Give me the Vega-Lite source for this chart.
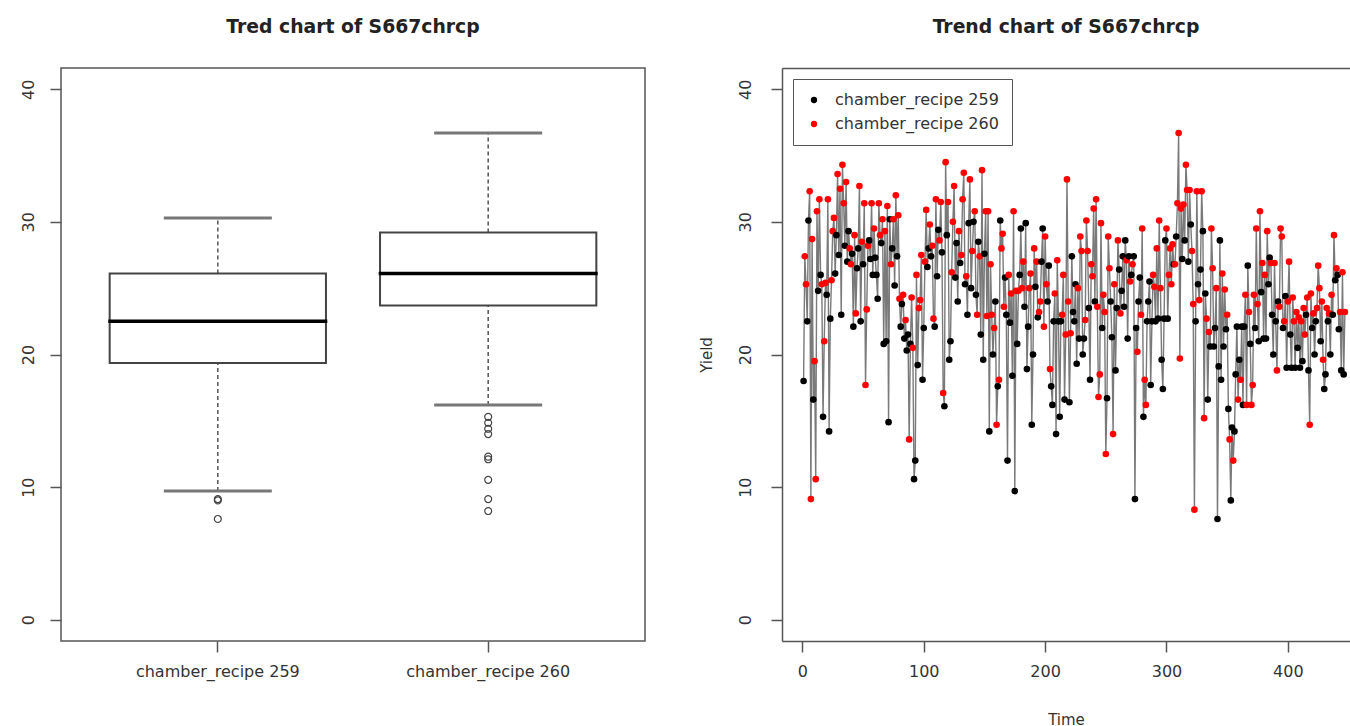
{
  "$schema": "https://vega.github.io/schema/vega-lite/v6.json",
  "background": "white",
  "padding": {"left": 19, "top": 17, "right": 0, "bottom": 0},
  "bounds": "flush",
  "spacing": 137,
  "resolve": {"legend": {"color": "independent"}},
  "config": {
    "font": "DejaVu Sans",
    "view": {"stroke": "#555", "strokeWidth": 1.5},
    "axis": {
      "labelFont": "DejaVu Sans", "labelFontSize": 16, "labelColor": "#333",
      "tickColor": "#555", "tickSize": 11, "tickWidth": 1.5,
      "grid": false, "domain": false,
      "titleFont": "DejaVu Sans", "titleFontWeight": "normal", "titleFontSize": 15, "titleColor": "#333"
    },
    "title": {"font": "DejaVu Sans", "fontSize": 18.8, "fontWeight": "bold", "color": "#222", "anchor": "middle", "baseline": "alphabetic"}
  },
  "datasets": {
    "box": [
      {"recipe": "chamber_recipe 259", "lo": 9.7, "q1": 19.35, "med": 22.5, "q3": 26.1, "hi": 30.3},
      {"recipe": "chamber_recipe 260", "lo": 16.2, "q1": 23.7, "med": 26.1, "q3": 29.2, "hi": 36.7}
    ],
    "outliers": [
      {"recipe": "chamber_recipe 259", "y": 9.1},
      {"recipe": "chamber_recipe 259", "y": 9.0},
      {"recipe": "chamber_recipe 259", "y": 7.6},
      {"recipe": "chamber_recipe 260", "y": 15.3},
      {"recipe": "chamber_recipe 260", "y": 14.85},
      {"recipe": "chamber_recipe 260", "y": 14.4},
      {"recipe": "chamber_recipe 260", "y": 14.0},
      {"recipe": "chamber_recipe 260", "y": 12.3},
      {"recipe": "chamber_recipe 260", "y": 12.1},
      {"recipe": "chamber_recipe 260", "y": 10.55},
      {"recipe": "chamber_recipe 260", "y": 9.1},
      {"recipe": "chamber_recipe 260", "y": 8.2}
    ],
    "series": [
      {"t":1,"y":18.0,"c":259},{"t":2,"y":27.4,"c":260},{"t":3,"y":25.3,"c":260},{"t":4,"y":22.5,"c":259},{"t":5,"y":30.1,"c":259},
      {"t":6,"y":32.3,"c":260},{"t":7,"y":9.1,"c":260},{"t":8,"y":28.7,"c":260},{"t":9,"y":16.6,"c":259},{"t":10,"y":19.5,"c":260},
      {"t":11,"y":10.6,"c":260},{"t":12,"y":30.8,"c":260},{"t":13,"y":24.8,"c":259},{"t":14,"y":31.7,"c":260},{"t":15,"y":26.0,"c":259},
      {"t":16,"y":25.3,"c":260},{"t":17,"y":15.3,"c":259},{"t":18,"y":21.0,"c":260},{"t":19,"y":25.4,"c":260},{"t":20,"y":24.5,"c":259},
      {"t":21,"y":31.7,"c":260},{"t":22,"y":14.2,"c":259},{"t":23,"y":22.7,"c":259},{"t":24,"y":25.6,"c":260},{"t":25,"y":29.3,"c":260},
      {"t":26,"y":30.3,"c":260},{"t":27,"y":26.1,"c":259},{"t":28,"y":29.0,"c":259},{"t":29,"y":33.6,"c":260},{"t":30,"y":27.5,"c":259},
      {"t":31,"y":32.5,"c":260},{"t":32,"y":23.0,"c":259},{"t":33,"y":34.3,"c":260},{"t":34,"y":31.4,"c":260},{"t":35,"y":28.2,"c":259},
      {"t":36,"y":33.0,"c":260},{"t":37,"y":27.0,"c":259},{"t":38,"y":29.3,"c":259},{"t":39,"y":28.0,"c":260},{"t":40,"y":26.8,"c":260},
      {"t":41,"y":27.6,"c":259},{"t":42,"y":22.1,"c":259},{"t":43,"y":29.0,"c":260},{"t":44,"y":23.1,"c":260},{"t":45,"y":26.5,"c":259},
      {"t":46,"y":28.0,"c":259},{"t":47,"y":32.7,"c":260},{"t":48,"y":22.5,"c":259},{"t":49,"y":28.5,"c":260},{"t":50,"y":26.8,"c":259},
      {"t":51,"y":31.4,"c":260},{"t":52,"y":17.7,"c":260},{"t":53,"y":23.4,"c":260},{"t":54,"y":28.2,"c":260},{"t":55,"y":28.6,"c":259},
      {"t":56,"y":27.2,"c":259},{"t":57,"y":31.4,"c":260},{"t":58,"y":26.0,"c":259},{"t":59,"y":29.5,"c":260},{"t":60,"y":27.3,"c":259},
      {"t":61,"y":26.0,"c":259},{"t":62,"y":24.2,"c":259},{"t":63,"y":31.4,"c":260},{"t":64,"y":29.0,"c":260},{"t":65,"y":28.4,"c":259},
      {"t":66,"y":30.2,"c":260},{"t":67,"y":20.8,"c":259},{"t":68,"y":29.3,"c":260},{"t":69,"y":21.0,"c":259},{"t":70,"y":31.2,"c":260},
      {"t":71,"y":14.9,"c":259},{"t":72,"y":30.2,"c":259},{"t":73,"y":26.8,"c":260},{"t":74,"y":28.0,"c":259},{"t":75,"y":30.2,"c":260},
      {"t":76,"y":25.2,"c":259},{"t":77,"y":32.0,"c":260},{"t":78,"y":27.4,"c":259},{"t":79,"y":30.5,"c":260},{"t":80,"y":24.2,"c":260},
      {"t":81,"y":22.1,"c":259},{"t":82,"y":23.8,"c":259},{"t":83,"y":24.5,"c":260},{"t":84,"y":21.2,"c":259},{"t":85,"y":22.6,"c":260},
      {"t":86,"y":20.3,"c":259},{"t":87,"y":21.5,"c":259},{"t":88,"y":13.6,"c":260},{"t":89,"y":20.8,"c":259},{"t":90,"y":24.3,"c":260},
      {"t":91,"y":20.5,"c":260},{"t":92,"y":10.6,"c":259},{"t":93,"y":12.0,"c":259},{"t":94,"y":26.0,"c":260},{"t":95,"y":19.2,"c":259},
      {"t":96,"y":23.5,"c":260},{"t":97,"y":24.1,"c":260},{"t":98,"y":27.5,"c":260},{"t":99,"y":18.1,"c":259},{"t":100,"y":22.0,"c":259},
      {"t":101,"y":27.0,"c":260},{"t":102,"y":30.9,"c":260},{"t":103,"y":26.6,"c":259},{"t":104,"y":28.0,"c":259},{"t":105,"y":29.8,"c":260},
      {"t":106,"y":27.4,"c":259},{"t":107,"y":28.2,"c":260},{"t":108,"y":22.7,"c":260},{"t":109,"y":22.1,"c":259},{"t":110,"y":31.7,"c":260},
      {"t":111,"y":25.9,"c":259},{"t":112,"y":29.4,"c":259},{"t":113,"y":28.6,"c":260},{"t":114,"y":31.5,"c":260},{"t":115,"y":27.7,"c":259},
      {"t":116,"y":17.1,"c":260},{"t":117,"y":16.1,"c":259},{"t":118,"y":34.5,"c":260},{"t":119,"y":29.0,"c":259},{"t":120,"y":31.5,"c":260},
      {"t":121,"y":19.6,"c":259},{"t":122,"y":21.0,"c":259},{"t":123,"y":26.2,"c":260},{"t":124,"y":30.0,"c":260},{"t":125,"y":32.7,"c":260},
      {"t":126,"y":25.8,"c":259},{"t":127,"y":28.4,"c":259},{"t":128,"y":24.0,"c":259},{"t":129,"y":29.3,"c":260},{"t":130,"y":26.9,"c":259},
      {"t":131,"y":27.5,"c":260},{"t":132,"y":31.7,"c":260},{"t":133,"y":33.7,"c":260},{"t":134,"y":25.3,"c":259},{"t":135,"y":25.9,"c":260},
      {"t":136,"y":23.0,"c":259},{"t":137,"y":29.9,"c":259},{"t":138,"y":33.2,"c":260},{"t":139,"y":25.0,"c":259},{"t":140,"y":27.8,"c":260},
      {"t":141,"y":30.0,"c":259},{"t":142,"y":30.8,"c":260},{"t":143,"y":24.5,"c":259},{"t":144,"y":23.0,"c":260},{"t":145,"y":28.5,"c":259},
      {"t":146,"y":27.4,"c":260},{"t":147,"y":21.5,"c":259},{"t":148,"y":33.9,"c":260},{"t":149,"y":19.6,"c":259},{"t":150,"y":27.6,"c":259},
      {"t":151,"y":30.8,"c":260},{"t":152,"y":22.9,"c":260},{"t":153,"y":30.8,"c":260},{"t":154,"y":14.2,"c":259},{"t":155,"y":26.8,"c":260},
      {"t":156,"y":23.0,"c":260},{"t":157,"y":20.0,"c":259},{"t":158,"y":22.0,"c":260},{"t":159,"y":24.0,"c":259},{"t":160,"y":14.7,"c":260},
      {"t":161,"y":17.6,"c":259},{"t":162,"y":18.1,"c":260},{"t":163,"y":30.1,"c":259},{"t":164,"y":28.0,"c":260},{"t":165,"y":29.1,"c":260},
      {"t":166,"y":23.6,"c":260},{"t":167,"y":25.8,"c":259},{"t":168,"y":23.0,"c":259},{"t":169,"y":12.0,"c":259},{"t":170,"y":26.0,"c":260},
      {"t":171,"y":22.4,"c":259},{"t":172,"y":24.6,"c":260},{"t":173,"y":18.4,"c":259},{"t":174,"y":30.8,"c":260},{"t":175,"y":9.7,"c":259},
      {"t":176,"y":24.8,"c":260},{"t":177,"y":20.8,"c":259},{"t":178,"y":24.8,"c":260},{"t":179,"y":26.0,"c":259},{"t":180,"y":29.5,"c":259},
      {"t":181,"y":25.0,"c":260},{"t":182,"y":27.0,"c":260},{"t":183,"y":23.6,"c":259},{"t":184,"y":29.9,"c":259},{"t":185,"y":18.9,"c":259},
      {"t":186,"y":22.1,"c":259},{"t":187,"y":25.0,"c":260},{"t":188,"y":26.1,"c":260},{"t":189,"y":14.7,"c":259},{"t":190,"y":20.0,"c":259},
      {"t":191,"y":28.0,"c":260},{"t":192,"y":25.1,"c":259},{"t":193,"y":27.0,"c":260},{"t":194,"y":22.8,"c":259},{"t":195,"y":23.2,"c":260},
      {"t":196,"y":24.0,"c":260},{"t":197,"y":27.0,"c":259},{"t":198,"y":29.5,"c":259},{"t":199,"y":22.1,"c":260},{"t":200,"y":28.9,"c":260},
      {"t":201,"y":25.3,"c":260},{"t":202,"y":24.0,"c":259},{"t":203,"y":26.7,"c":259},{"t":204,"y":18.9,"c":260},{"t":205,"y":17.6,"c":259},
      {"t":206,"y":16.2,"c":259},{"t":207,"y":22.5,"c":259},{"t":208,"y":24.6,"c":260},{"t":209,"y":14.0,"c":259},{"t":210,"y":27.1,"c":260},
      {"t":211,"y":22.5,"c":259},{"t":212,"y":15.3,"c":259},{"t":213,"y":22.5,"c":259},{"t":214,"y":23.0,"c":260},{"t":215,"y":26.0,"c":260},
      {"t":216,"y":16.6,"c":259},{"t":217,"y":21.5,"c":260},{"t":218,"y":33.2,"c":260},{"t":219,"y":24.0,"c":260},{"t":220,"y":16.4,"c":259},
      {"t":221,"y":21.6,"c":260},{"t":222,"y":27.4,"c":259},{"t":223,"y":23.2,"c":259},{"t":224,"y":22.5,"c":259},{"t":225,"y":25.3,"c":259},
      {"t":226,"y":19.3,"c":259},{"t":227,"y":25.0,"c":260},{"t":228,"y":21.2,"c":259},{"t":229,"y":28.9,"c":260},{"t":230,"y":27.8,"c":260},
      {"t":231,"y":20.0,"c":259},{"t":232,"y":21.2,"c":259},{"t":233,"y":22.6,"c":260},{"t":234,"y":30.1,"c":260},{"t":235,"y":27.8,"c":260},
      {"t":236,"y":23.5,"c":259},{"t":237,"y":18.1,"c":259},{"t":238,"y":26.8,"c":260},{"t":239,"y":25.9,"c":260},{"t":240,"y":31.0,"c":260},
      {"t":241,"y":24.0,"c":259},{"t":242,"y":31.7,"c":260},{"t":243,"y":23.6,"c":260},{"t":244,"y":16.8,"c":260},{"t":245,"y":18.5,"c":260},
      {"t":246,"y":29.9,"c":260},{"t":247,"y":22.0,"c":259},{"t":248,"y":24.5,"c":260},{"t":249,"y":23.2,"c":260},{"t":250,"y":12.5,"c":260},
      {"t":251,"y":16.7,"c":259},{"t":252,"y":28.9,"c":260},{"t":253,"y":26.5,"c":260},{"t":254,"y":24.0,"c":259},{"t":255,"y":21.3,"c":259},
      {"t":256,"y":14.0,"c":260},{"t":257,"y":25.3,"c":260},{"t":258,"y":18.8,"c":259},{"t":259,"y":23.5,"c":259},{"t":260,"y":28.6,"c":260},
      {"t":261,"y":26.4,"c":259},{"t":262,"y":23.1,"c":260},{"t":263,"y":24.8,"c":259},{"t":264,"y":27.4,"c":259},{"t":265,"y":23.6,"c":259},
      {"t":266,"y":28.6,"c":259},{"t":267,"y":27.1,"c":260},{"t":268,"y":21.2,"c":259},{"t":269,"y":27.4,"c":259},{"t":270,"y":25.5,"c":260},
      {"t":271,"y":26.0,"c":259},{"t":272,"y":26.8,"c":260},{"t":273,"y":27.4,"c":259},{"t":274,"y":9.1,"c":259},{"t":275,"y":22.0,"c":259},
      {"t":276,"y":20.2,"c":260},{"t":277,"y":24.0,"c":259},{"t":278,"y":25.8,"c":259},{"t":279,"y":23.0,"c":260},{"t":280,"y":29.5,"c":260},
      {"t":281,"y":15.3,"c":259},{"t":282,"y":18.1,"c":260},{"t":283,"y":16.2,"c":260},{"t":284,"y":22.5,"c":259},{"t":285,"y":24.0,"c":259},
      {"t":286,"y":25.5,"c":259},{"t":287,"y":17.7,"c":259},{"t":288,"y":22.5,"c":259},{"t":289,"y":26.0,"c":260},{"t":290,"y":25.1,"c":260},
      {"t":291,"y":22.5,"c":259},{"t":292,"y":28.0,"c":260},{"t":293,"y":22.7,"c":259},{"t":294,"y":30.1,"c":260},{"t":295,"y":25.0,"c":260},
      {"t":296,"y":19.6,"c":259},{"t":297,"y":17.4,"c":259},{"t":298,"y":22.7,"c":259},{"t":299,"y":28.6,"c":259},{"t":300,"y":29.5,"c":260},
      {"t":301,"y":22.7,"c":259},{"t":302,"y":26.0,"c":260},{"t":303,"y":28.0,"c":260},{"t":304,"y":25.3,"c":260},{"t":305,"y":28.3,"c":260},
      {"t":306,"y":26.8,"c":259},{"t":307,"y":26.8,"c":260},{"t":308,"y":28.9,"c":259},{"t":309,"y":31.4,"c":260},{"t":310,"y":36.7,"c":260},
      {"t":311,"y":19.7,"c":260},{"t":312,"y":31.0,"c":260},{"t":313,"y":27.2,"c":259},{"t":314,"y":31.3,"c":260},{"t":315,"y":28.6,"c":259},
      {"t":316,"y":34.3,"c":260},{"t":317,"y":32.4,"c":260},{"t":318,"y":27.0,"c":259},{"t":319,"y":32.4,"c":260},{"t":320,"y":29.8,"c":259},
      {"t":321,"y":27.8,"c":260},{"t":322,"y":23.8,"c":260},{"t":323,"y":8.3,"c":260},{"t":324,"y":22.5,"c":259},{"t":325,"y":32.3,"c":260},
      {"t":326,"y":25.3,"c":259},{"t":327,"y":24.1,"c":260},{"t":328,"y":26.4,"c":259},{"t":329,"y":32.3,"c":260},{"t":330,"y":29.3,"c":259},
      {"t":331,"y":15.2,"c":260},{"t":332,"y":24.6,"c":259},{"t":333,"y":22.7,"c":260},{"t":334,"y":16.6,"c":259},{"t":335,"y":21.7,"c":260},
      {"t":336,"y":20.6,"c":259},{"t":337,"y":29.5,"c":260},{"t":338,"y":26.5,"c":260},{"t":339,"y":20.6,"c":259},{"t":340,"y":22.0,"c":259},
      {"t":341,"y":25.0,"c":260},{"t":342,"y":7.6,"c":259},{"t":343,"y":19.1,"c":259},{"t":344,"y":28.6,"c":259},{"t":345,"y":18.1,"c":259},
      {"t":346,"y":26.1,"c":260},{"t":347,"y":20.6,"c":259},{"t":348,"y":24.9,"c":260},{"t":349,"y":21.9,"c":259},{"t":350,"y":23.0,"c":260},
      {"t":351,"y":15.9,"c":259},{"t":352,"y":13.6,"c":260},{"t":353,"y":9.0,"c":259},{"t":354,"y":14.5,"c":259},{"t":355,"y":12.0,"c":260},
      {"t":356,"y":14.2,"c":259},{"t":357,"y":18.5,"c":259},{"t":358,"y":22.1,"c":259},{"t":359,"y":16.6,"c":260},{"t":360,"y":19.6,"c":259},
      {"t":361,"y":18.1,"c":260},{"t":362,"y":22.1,"c":259},{"t":363,"y":16.2,"c":259},{"t":364,"y":22.1,"c":259},{"t":365,"y":24.5,"c":260},
      {"t":366,"y":16.2,"c":260},{"t":367,"y":26.7,"c":259},{"t":368,"y":23.2,"c":260},{"t":369,"y":20.8,"c":259},{"t":370,"y":16.2,"c":260},
      {"t":371,"y":17.7,"c":260},{"t":372,"y":24.5,"c":260},{"t":373,"y":22.0,"c":259},{"t":374,"y":29.5,"c":260},{"t":375,"y":23.8,"c":260},
      {"t":376,"y":21.0,"c":259},{"t":377,"y":30.8,"c":260},{"t":378,"y":24.7,"c":259},{"t":379,"y":26.9,"c":260},{"t":380,"y":21.2,"c":259},
      {"t":381,"y":26.0,"c":260},{"t":382,"y":21.2,"c":259},{"t":383,"y":29.3,"c":260},{"t":384,"y":25.3,"c":259},{"t":385,"y":27.3,"c":259},
      {"t":386,"y":26.9,"c":260},{"t":387,"y":23.0,"c":259},{"t":388,"y":20.0,"c":259},{"t":389,"y":26.9,"c":260},{"t":390,"y":22.5,"c":259},
      {"t":391,"y":18.8,"c":260},{"t":392,"y":24.0,"c":259},{"t":393,"y":23.6,"c":260},{"t":394,"y":29.5,"c":260},{"t":395,"y":28.9,"c":260},
      {"t":396,"y":22.0,"c":259},{"t":397,"y":22.5,"c":260},{"t":398,"y":24.4,"c":259},{"t":399,"y":19.0,"c":259},{"t":400,"y":24.0,"c":260},
      {"t":401,"y":27.0,"c":260},{"t":402,"y":21.5,"c":259},{"t":403,"y":19.0,"c":259},{"t":404,"y":24.3,"c":260},{"t":405,"y":22.5,"c":260},
      {"t":406,"y":19.0,"c":259},{"t":407,"y":23.2,"c":260},{"t":408,"y":20.5,"c":259},{"t":409,"y":22.8,"c":260},{"t":410,"y":19.0,"c":259},
      {"t":411,"y":22.5,"c":260},{"t":412,"y":19.5,"c":259},{"t":413,"y":23.5,"c":260},{"t":414,"y":21.5,"c":260},{"t":415,"y":23.0,"c":259},
      {"t":416,"y":24.3,"c":260},{"t":417,"y":18.8,"c":259},{"t":418,"y":14.7,"c":260},{"t":419,"y":24.6,"c":260},{"t":420,"y":22.0,"c":259},
      {"t":421,"y":23.1,"c":260},{"t":422,"y":20.0,"c":259},{"t":423,"y":22.5,"c":259},{"t":424,"y":23.5,"c":260},{"t":425,"y":26.7,"c":260},
      {"t":426,"y":25.0,"c":260},{"t":427,"y":21.0,"c":259},{"t":428,"y":24.0,"c":260},{"t":429,"y":19.6,"c":260},{"t":430,"y":17.4,"c":259},
      {"t":431,"y":18.5,"c":259},{"t":432,"y":23.5,"c":260},{"t":433,"y":22.5,"c":259},{"t":434,"y":23.1,"c":260},{"t":435,"y":20.0,"c":259},
      {"t":436,"y":24.5,"c":260},{"t":437,"y":23.0,"c":259},{"t":438,"y":29.0,"c":260},{"t":439,"y":25.6,"c":259},{"t":440,"y":26.5,"c":260},
      {"t":441,"y":26.0,"c":259},{"t":442,"y":21.9,"c":259},{"t":443,"y":23.2,"c":260},{"t":444,"y":18.8,"c":259},{"t":445,"y":26.2,"c":260},
      {"t":446,"y":18.5,"c":259},{"t":447,"y":23.2,"c":260}
    ]
  },
  "hconcat": [
    {
      "width": 584,
      "height": 573,
      "title": {"text": "Tred chart of S667chrcp", "offset": 31},
      "encoding": {
        "x": {
          "field": "recipe", "type": "nominal",
          "scale": {"domain": ["chamber_recipe 259", "chamber_recipe 260"], "paddingInner": 0.2, "paddingOuter": 0.18},
          "axis": {"title": null, "labelAngle": 0, "labelPadding": 11}
        }
      },
      "layer": [
        {
          "data": {"name": "box"},
          "mark": {"type": "rule", "color": "#555", "strokeWidth": 1.5, "strokeDash": [4, 3]},
          "encoding": {
            "y": {"field": "q3", "type": "quantitative",
                  "scale": {"domain": [-1.6, 41.6], "nice": false, "zero": false},
                  "axis": {"values": [0, 10, 20, 30, 40], "labelAngle": 270, "title": null, "labelPadding": 14}},
            "y2": {"field": "hi"}
          }
        },
        {
          "data": {"name": "box"},
          "mark": {"type": "rule", "color": "#555", "strokeWidth": 1.5, "strokeDash": [4, 3]},
          "encoding": {"y": {"field": "lo", "type": "quantitative"}, "y2": {"field": "q1"}}
        },
        {
          "data": {"name": "box"},
          "mark": {"type": "bar", "fill": "white", "stroke": "#444", "strokeWidth": 2},
          "encoding": {"y": {"field": "q1", "type": "quantitative"}, "y2": {"field": "q3"}}
        },
        {
          "data": {"name": "box"},
          "mark": {"type": "tick", "color": "#000", "thickness": 3.5, "size": 219, "opacity": 1},
          "encoding": {"y": {"field": "med", "type": "quantitative"}}
        },
        {
          "data": {"name": "box"},
          "mark": {"type": "tick", "color": "#777", "thickness": 3, "size": 108, "opacity": 1},
          "encoding": {"y": {"field": "hi", "type": "quantitative"}}
        },
        {
          "data": {"name": "box"},
          "mark": {"type": "tick", "color": "#777", "thickness": 3, "size": 108, "opacity": 1},
          "encoding": {"y": {"field": "lo", "type": "quantitative"}}
        },
        {
          "data": {"name": "outliers"},
          "mark": {"type": "point", "shape": "circle", "filled": false, "size": 48, "stroke": "#444", "strokeWidth": 1.2, "opacity": 1},
          "encoding": {"y": {"field": "y", "type": "quantitative"}}
        }
      ]
    },
    {
      "width": 568,
      "height": 573,
      "view": {"stroke": null},
      "title": {"text": "Trend chart of S667chrcp", "offset": 31},
      "data": {"name": "series"},
      "layer": [
        {
          "mark": {"type": "line", "color": "#7a7a7a", "strokeWidth": 1.4},
          "encoding": {
            "x": {"field": "t", "type": "quantitative",
                  "scale": {"domain": [-16.8, 451.2], "nice": false, "zero": false},
                  "axis": {"orient": "top", "domain": true, "domainColor": "#555", "domainWidth": 1.5, "ticks": false, "labels": false, "title": null}},
            "y": {"field": "y", "type": "quantitative",
                  "scale": {"domain": [-1.6, 41.6], "nice": false, "zero": false},
                  "axis": {"values": [0, 10, 20, 30, 40], "labelAngle": 270, "title": "Yield", "titlePadding": 23, "labelPadding": 18,
                           "domain": true, "domainColor": "#555", "domainWidth": 1.5}}
          }
        },
        {
          "mark": {"type": "point", "shape": "circle", "filled": true, "size": 44, "opacity": 1},
          "encoding": {
            "x": {"field": "t", "type": "quantitative",
                  "axis": {"orient": "bottom", "values": [0, 100, 200, 300, 400], "title": "Time", "titlePadding": 33, "labelPadding": 11,
                           "domain": true, "domainColor": "#555", "domainWidth": 1.5}},
            "y": {"field": "y", "type": "quantitative"},
            "color": {
              "field": "c", "type": "nominal",
              "scale": {"domain": [259, 260], "range": ["black", "red"]},
              "legend": {
                "title": null, "orient": "none", "legendX": 11, "legendY": 11, "direction": "vertical",
                "strokeColor": "#555", "padding": 13, "rowPadding": 8,
                "symbolType": "circle", "symbolSize": 40, "labelOffset": 13, "labelLimit": 400,
                "labelFont": "DejaVu Sans", "labelFontSize": 16, "labelColor": "#333",
                "labelExpr": "'chamber_recipe ' + datum.label"
              }
            }
          }
        }
      ],
      "resolve": {"axis": {"x": "independent"}}
    }
  ]
}
